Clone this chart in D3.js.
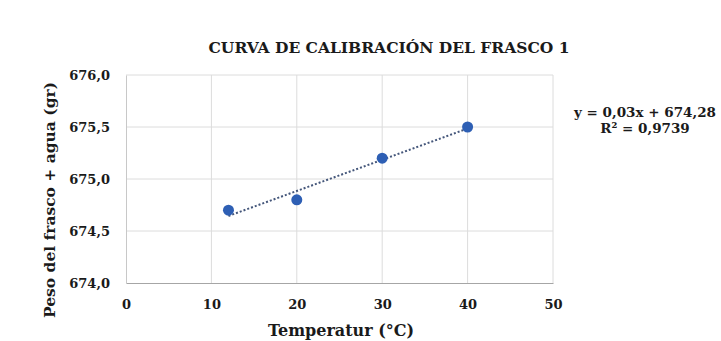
<!DOCTYPE html>
<html>
<head>
<meta charset="utf-8">
<script src="https://cdn.jsdelivr.net/npm/d3@7"></script>
<style>
  html, body { margin: 0; padding: 0; background: #fff; }
  svg { display: block; }
  text { font-family: "DejaVu Serif", "Liberation Serif", serif; font-weight: bold; fill: #1a1a1a; }
</style>
</head>
<body>
<svg id="chart" width="721" height="341"></svg>
<script>
// Calibration data: temperature (°C) vs. weight of flask + water (g)
const temperatures = [12, 20, 30, 40];
const weights = [674.7, 674.8, 675.2, 675.5];
const xTicks = [0, 10, 20, 30, 40, 50];
const yTicks = [674.0, 674.5, 675.0, 675.5, 676.0];

const title = "CURVA DE CALIBRACIÓN DEL FRASCO 1";
const xLabel = "Temperatur (°C)";
const yLabel = "Peso del frasco + agua (gr)";

const FONT = "DejaVu Serif";
const fmtComma = (v, d) => v.toFixed(d).replace(".", ",");

// Least-squares linear trendline
const n = temperatures.length;
const mx = d3.mean(temperatures), my = d3.mean(weights);
let sxy = 0, sxx = 0, syy = 0;
for (let i = 0; i < n; i++) {
  sxy += (temperatures[i] - mx) * (weights[i] - my);
  sxx += (temperatures[i] - mx) ** 2;
  syy += (weights[i] - my) ** 2;
}
const slope = sxy / sxx;
const intercept = my - slope * mx;
const r2 = (sxy * sxy) / (sxx * syy);

const svg = d3.select("#chart");
const plot = { left: 126, right: 553, top: 75, bottom: 283 };

const x = d3.scaleLinear().domain([0, 50]).range([plot.left, plot.right]);
const y = d3.scaleLinear().domain([674, 676]).range([plot.bottom, plot.top]);

// Gridlines
svg.append("g")
  .selectAll("line")
  .data(yTicks.slice(1))
  .join("line")
  .attr("x1", plot.left).attr("x2", plot.right)
  .attr("y1", d => y(d)).attr("y2", d => y(d))
  .attr("stroke", "#dcdcdc").attr("stroke-width", 1);

svg.append("g")
  .selectAll("line")
  .data(xTicks.slice(1))
  .join("line")
  .attr("x1", d => x(d)).attr("x2", d => x(d))
  .attr("y1", plot.top).attr("y2", plot.bottom)
  .attr("stroke", "#dcdcdc").attr("stroke-width", 1);

// Axes
const xAxis = d3.axisBottom(x).tickValues(xTicks).tickSize(0).tickPadding(17).tickFormat(d3.format("d"));
const yAxis = d3.axisLeft(y).tickValues(yTicks).tickSize(0).tickPadding(16).tickFormat(d => fmtComma(d, 1));

const gx = svg.append("g").attr("transform", `translate(0,${plot.bottom})`).call(xAxis);
gx.select(".domain").attr("stroke", "#a6a6a6").attr("stroke-width", 1.2);
gx.selectAll("text").attr("font-size", 13).attr("font-family", FONT).attr("font-weight", "bold").attr("fill", "#1a1a1a");

const gy = svg.append("g").attr("transform", `translate(${plot.left},0)`).call(yAxis);
gy.select(".domain").attr("stroke", "#c8c8c8").attr("stroke-width", 1);
gy.selectAll("text").attr("font-size", 13).attr("font-family", FONT).attr("font-weight", "bold").attr("fill", "#1a1a1a");

// Trendline (dotted)
const tx0 = d3.min(temperatures), tx1 = d3.max(temperatures);
svg.append("line")
  .attr("x1", x(tx0)).attr("y1", y(slope * tx0 + intercept))
  .attr("x2", x(tx1)).attr("y2", y(slope * tx1 + intercept))
  .attr("stroke", "#44567a").attr("stroke-width", 2)
  .attr("stroke-dasharray", "2,2");

// Data points
svg.append("g")
  .selectAll("circle")
  .data(temperatures.map((t, i) => [t, weights[i]]))
  .join("circle")
  .attr("cx", d => x(d[0])).attr("cy", d => y(d[1]))
  .attr("r", 5.5)
  .attr("fill", "#2e5fb4");

// Title
svg.append("text")
  .attr("x", 389).attr("y", 53)
  .attr("text-anchor", "middle")
  .attr("font-size", 15.5)
  .text(title);

// Axis titles
svg.append("text")
  .attr("x", 341).attr("y", 336)
  .attr("text-anchor", "middle")
  .attr("font-size", 16)
  .text(xLabel);

svg.append("text")
  .attr("transform", `translate(55,200) rotate(-90)`)
  .attr("text-anchor", "middle")
  .attr("font-size", 15.5)
  .text(yLabel);

// Trendline equation
svg.append("text")
  .attr("x", 645).attr("y", 117)
  .attr("text-anchor", "middle")
  .attr("font-size", 13.5)
  .text(`y = ${fmtComma(slope, 2)}x + ${fmtComma(intercept, 2)}`);

svg.append("text")
  .attr("x", 645).attr("y", 133)
  .attr("text-anchor", "middle")
  .attr("font-size", 13.5)
  .text(`R² = ${fmtComma(r2, 4)}`);
</script>
</body>
</html>
